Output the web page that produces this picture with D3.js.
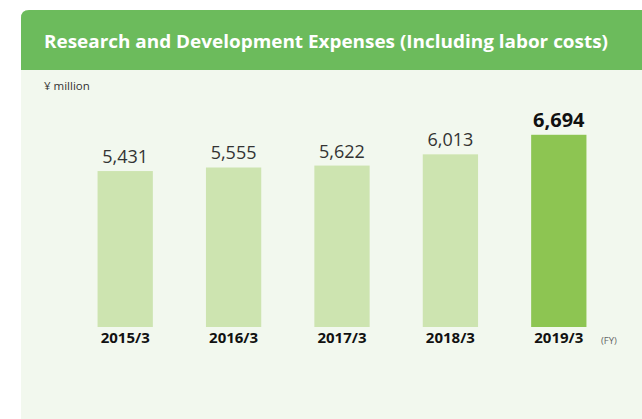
<!DOCTYPE html>
<html lang="en">
<head>
  <meta charset="UTF-8" />
  <title>Research and Development Expenses</title>
  <script src="https://d3js.org/d3.v7.min.js"></script>
  <style>
    body { margin: 0; padding: 0; background: #fff; overflow: hidden; }
    svg { display: block; font-family: "Open Sans", "Noto Sans", sans-serif; }
  </style>
</head>
<body>
  <svg width="642" height="419"></svg>

  <script>
  // data
  const years  = ["2015/3", "2016/3", "2017/3", "2018/3", "2019/3"];
  const values = [5431, 5555, 5622, 6013, 6694];
  const title = "Research and Development Expenses (Including labor costs)";
  const unit = "¥ million";

  const W = 642, H = 419;
  const svg = d3.select("svg");

  // card: rounded top-left, runs off the right and bottom
  const cardX = 21, cardY = 10, r = 8, headH = 60;
  svg.append("path")
    .attr("d", `M${cardX},${H + 5} V${cardY + r} Q${cardX},${cardY} ${cardX + r},${cardY} H${W + 5} V${H + 5} Z`)
    .attr("fill", "#f2f8ee");
  svg.append("path")
    .attr("d", `M${cardX},${cardY + headH} V${cardY + r} Q${cardX},${cardY} ${cardX + r},${cardY} H${W + 5} V${cardY + headH} Z`)
    .attr("fill", "#6cbb5c");

  svg.append("text")
    .attr("x", 44).attr("y", 48)
    .attr("fill", "#fff")
    .attr("font-size", 17.5).attr("font-weight", "bold")
    .attr("textLength", 564).attr("lengthAdjust", "spacingAndGlyphs")
    .text(title);

  svg.append("text")
    .attr("x", 44).attr("y", 90)
    .attr("fill", "#333").attr("font-size", 11.5)
    .text(unit);

  // scales
  const x = d3.scaleBand().domain(years).range([71, 613]).paddingInner(0.49).paddingOuter(0.245);
  const y = d3.scaleLinear().domain([0, 7000]).range([327, 126]);

  const last = years.length - 1;
  svg.selectAll("rect.bar").data(values).enter().append("rect")
    .attr("class", "bar")
    .attr("x", (d, i) => x(years[i]))
    .attr("width", x.bandwidth())
    .attr("y", d => y(d))
    .attr("height", d => y(0) - y(d))
    .attr("fill", (d, i) => i === last ? "#8dc552" : "#cde4b0");

  svg.selectAll("text.val").data(values).enter().append("text")
    .attr("class", "val")
    .attr("x", (d, i) => x(years[i]) + x.bandwidth() / 2)
    .attr("y", d => y(d) - 8)
    .attr("text-anchor", "middle")
    .attr("fill", (d, i) => i === last ? "#111" : "#333")
    .attr("font-size", (d, i) => i === last ? 20 : 18)
    .attr("font-weight", (d, i) => i === last ? "bold" : "normal")
    .text(d => d3.format(",")(d));

  // category axis (no line, no ticks)
  const xAxis = svg.append("g")
    .attr("transform", `translate(0,${y(0)})`)
    .call(d3.axisBottom(x).tickSize(0).tickPadding(5));
  xAxis.select(".domain").remove();
  xAxis.selectAll("text")
    .attr("font-family", "'Open Sans', sans-serif")
    .attr("font-size", 15).attr("font-weight", "bold").attr("fill", "#111");

  svg.append("text")
    .attr("x", 601).attr("y", 344)
    .attr("fill", "#666").attr("font-size", 9.5)
    .text("(FY)");
  </script>
</body>
</html>
